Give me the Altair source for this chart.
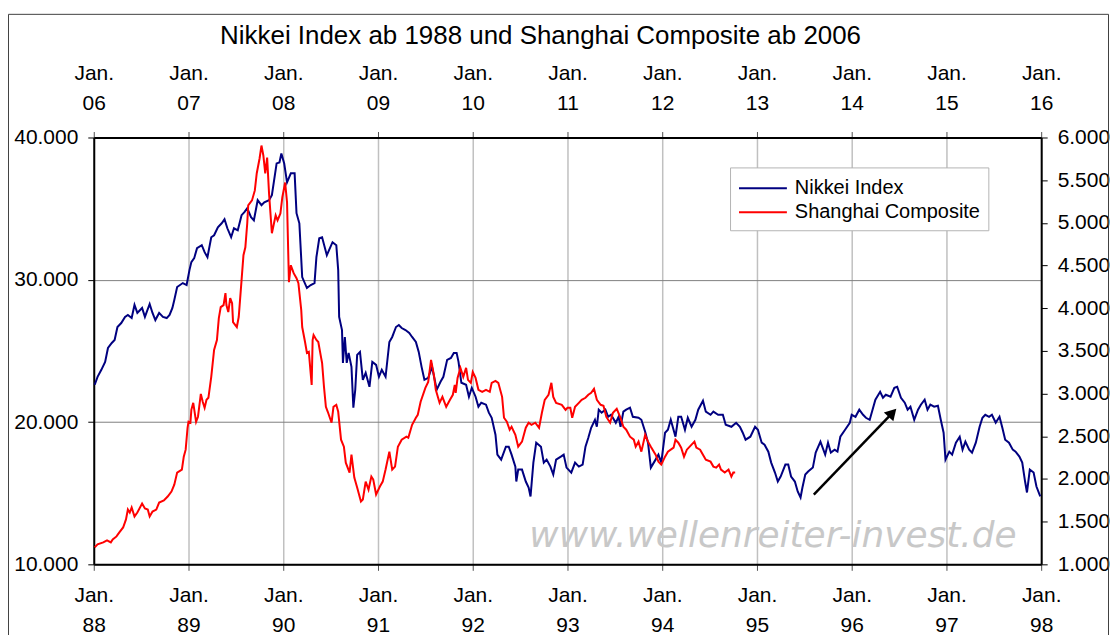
import altair as alt
import pandas as pd

FONT = "Liberation Sans"

title_text = "Nikkei Index ab 1988 und Shanghai Composite ab 2006"
series_names = ["Nikkei Index", "Shanghai Composite"]
series_colors = ["#000080", "#ff0000"]
watermark_text = "www.wellenreiter-invest.de"

# Nikkei (bottom / left axes), time as decimal year
nikkei_t = [
    1988.01, 1988.04, 1988.08, 1988.12, 1988.15, 1988.19, 1988.22, 1988.25, 1988.29, 1988.33,
    1988.36, 1988.40, 1988.43, 1988.46, 1988.51, 1988.54, 1988.59, 1988.62, 1988.65, 1988.69,
    1988.73, 1988.77, 1988.80, 1988.83, 1988.85, 1988.88, 1988.94, 1988.98,
    1989.01, 1989.03, 1989.06, 1989.09, 1989.14, 1989.17, 1989.20, 1989.24, 1989.27, 1989.31,
    1989.35, 1989.38, 1989.41, 1989.45, 1989.48, 1989.52, 1989.56, 1989.59, 1989.62, 1989.66,
    1989.69, 1989.73, 1989.77, 1989.80, 1989.85, 1989.88, 1989.93, 1989.96, 1989.98,
    1990.01, 1990.04, 1990.08, 1990.12, 1990.14, 1990.17, 1990.20, 1990.25, 1990.29, 1990.33,
    1990.35, 1990.38, 1990.41, 1990.46, 1990.52, 1990.56, 1990.58, 1990.59, 1990.62, 1990.63,
    1990.65, 1990.67, 1990.69, 1990.72, 1990.74, 1990.76, 1990.78, 1990.81, 1990.84, 1990.87,
    1990.91, 1990.94, 1990.98,
    1991.01, 1991.04, 1991.08, 1991.12, 1991.15, 1991.19, 1991.22, 1991.25, 1991.29, 1991.33,
    1991.36, 1991.40, 1991.43, 1991.46, 1991.49, 1991.53, 1991.57, 1991.62, 1991.66, 1991.69,
    1991.73, 1991.77, 1991.80, 1991.83, 1991.85, 1991.88, 1991.93, 1991.96, 1991.99,
    1992.03, 1992.06, 1992.09, 1992.14, 1992.17, 1992.20, 1992.24, 1992.26, 1992.30, 1992.35,
    1992.38, 1992.41, 1992.45, 1992.46, 1992.48, 1992.52, 1992.56, 1992.59, 1992.61, 1992.64,
    1992.67, 1992.72, 1992.75, 1992.78, 1992.82, 1992.85, 1992.88, 1992.93, 1992.96, 1992.99,
    1993.04, 1993.08, 1993.12, 1993.16, 1993.19, 1993.22, 1993.25, 1993.29, 1993.31, 1993.33,
    1993.36, 1993.40, 1993.43, 1993.46, 1993.51, 1993.54, 1993.56, 1993.59, 1993.62, 1993.66,
    1993.69, 1993.75, 1993.78, 1993.82, 1993.85, 1993.88, 1993.93, 1993.96, 1993.99,
    1994.03, 1994.06, 1994.09, 1994.14, 1994.17, 1994.20, 1994.24, 1994.27, 1994.31, 1994.35,
    1994.38, 1994.43, 1994.46, 1994.51, 1994.54, 1994.59, 1994.64, 1994.67, 1994.73, 1994.78,
    1994.82, 1994.85, 1994.88, 1994.93, 1994.98,
    1995.01, 1995.05, 1995.08, 1995.12, 1995.15, 1995.19, 1995.22, 1995.25, 1995.30, 1995.33,
    1995.36, 1995.40, 1995.43, 1995.46, 1995.48, 1995.51, 1995.54, 1995.59, 1995.62, 1995.67,
    1995.72, 1995.75, 1995.78, 1995.82, 1995.85, 1995.88, 1995.93, 1995.98,
    1996.00, 1996.04, 1996.08, 1996.12, 1996.15, 1996.19, 1996.22, 1996.25, 1996.30, 1996.33,
    1996.36, 1996.41, 1996.45, 1996.48, 1996.52, 1996.56, 1996.59, 1996.62, 1996.66, 1996.70,
    1996.73, 1996.77, 1996.80, 1996.83, 1996.87, 1996.91, 1996.94, 1996.97, 1996.99,
    1997.03, 1997.06, 1997.10, 1997.14, 1997.17, 1997.20, 1997.24, 1997.27, 1997.31, 1997.35,
    1997.38, 1997.41, 1997.45, 1997.48, 1997.52, 1997.56, 1997.59, 1997.62, 1997.66, 1997.70,
    1997.73, 1997.77, 1997.80, 1997.83, 1997.85, 1997.88, 1997.92, 1997.95, 1997.99,
]
nikkei_v = [
    22620, 23180, 23670, 24230, 25210, 25560, 25770, 26680, 26960, 27390,
    27530, 27310, 28230, 27670, 28020, 27390, 28300, 27670, 27170, 27670,
    27390, 27310, 27530, 28020, 28580, 29490, 29770, 29630,
    30680, 31240, 31520, 32220, 32430, 31940, 31590, 32990, 33130, 33690,
    33970, 34250, 33620, 32990, 33620, 33480, 34540, 34750, 35030, 34400,
    34180, 35590, 35240, 35450, 35590, 35940, 38180, 38250, 38880,
    38180, 36850, 37480, 37480, 34680, 33970, 30190, 29420, 29630, 29770,
    31590, 32920, 32990, 31730, 32640, 32430, 30680, 27390, 26470, 24160,
    25980, 24160, 24860, 23880, 21010, 22270, 24720, 24930, 22970, 23460,
    22480, 24230, 24020,
    23180, 23670, 23180, 25630, 25980, 26680, 26820, 26610, 26470, 26260,
    25980, 25630, 24930, 23880, 22970, 23110, 23880, 22270, 22830, 23180,
    24370, 24510, 24860, 24860, 24230, 22760, 22620, 21780, 22410,
    21780, 21080, 21360, 21220, 20660, 20300, 19110, 17710, 17360, 18270,
    18270, 17710, 16870, 15820, 16660, 16660, 15820, 15400, 14770, 17150,
    18550, 18270, 17150, 17360, 16870, 16310, 17360, 17570, 17710, 16800,
    16450, 17150, 16870, 17010, 18270, 18900, 19600, 20160, 19670, 20870,
    20660, 20870, 20370, 20510, 19950, 20370, 19670, 20730, 20870, 21010,
    20370, 20300, 20160, 19320, 18550, 16800, 17360, 17710, 17150,
    19250, 19460, 20160, 18970, 20370, 20370, 19460, 20300, 19670, 20160,
    20870, 21500, 20730, 20510, 20730, 20510, 20510, 19810, 19670, 19950,
    19670, 19250, 18760, 18970, 19670,
    19460, 18550, 18410, 17920, 17150, 16450, 15820, 16170, 17010, 17010,
    16170, 15820, 15120, 14700, 15400, 16310, 16520, 16800, 17850, 18620,
    17710, 18550, 17850, 18060, 17920, 18970, 19460, 19950,
    20510, 20370, 20870, 20510, 20300, 20160, 20870, 21570, 22130, 21710,
    21920, 21780, 22410, 22480, 21710, 21360, 20870, 21080, 20160, 20870,
    21220, 21570, 20870, 21220, 21080, 21150, 20160, 19250, 17360,
    17920, 17710, 18550, 18970, 18060, 18620, 18060, 17850, 18550, 19670,
    20300, 20510, 20370, 20510, 19950, 20370, 19600, 18760, 18550, 18060,
    17920, 17570, 17150, 15820, 15050, 16660, 16450, 15470, 14770,
]

# Shanghai Composite (top / right axes), time as decimal year
shanghai_t = [
    2006.01, 2006.04, 2006.10, 2006.14, 2006.18, 2006.20, 2006.24, 2006.27, 2006.31, 2006.34,
    2006.36, 2006.38, 2006.40, 2006.43, 2006.46, 2006.51, 2006.54, 2006.57, 2006.59, 2006.62,
    2006.66, 2006.69, 2006.74, 2006.78, 2006.82, 2006.85, 2006.88, 2006.93, 2006.95, 2006.97,
    2006.99,
    2007.00, 2007.02, 2007.03, 2007.05, 2007.08, 2007.10, 2007.13, 2007.15, 2007.17, 2007.19,
    2007.21, 2007.24, 2007.27, 2007.30, 2007.32, 2007.34, 2007.37, 2007.39, 2007.40, 2007.42,
    2007.44, 2007.46, 2007.47, 2007.51, 2007.53, 2007.56, 2007.58, 2007.60, 2007.62, 2007.63,
    2007.67, 2007.70, 2007.72, 2007.75, 2007.77, 2007.79, 2007.81, 2007.83, 2007.85, 2007.88,
    2007.92, 2007.94, 2007.97, 2007.99,
    2008.02, 2008.04, 2008.06, 2008.08, 2008.11, 2008.14, 2008.16, 2008.19, 2008.20, 2008.23,
    2008.25, 2008.27, 2008.30, 2008.31, 2008.32, 2008.35, 2008.37, 2008.40, 2008.41, 2008.43,
    2008.45, 2008.47, 2008.51, 2008.53, 2008.56, 2008.58, 2008.61, 2008.64, 2008.66, 2008.70,
    2008.72, 2008.75, 2008.78, 2008.82, 2008.84, 2008.87, 2008.90, 2008.93, 2008.95, 2008.98,
    2009.02, 2009.05, 2009.08, 2009.12, 2009.15, 2009.18, 2009.21, 2009.25, 2009.30, 2009.32,
    2009.36, 2009.40, 2009.42, 2009.45, 2009.50, 2009.53, 2009.56, 2009.59, 2009.61, 2009.65,
    2009.68, 2009.72, 2009.76, 2009.79, 2009.81, 2009.82, 2009.84, 2009.87, 2009.90, 2009.93,
    2009.95, 2009.98,
    2010.00, 2010.03, 2010.06, 2010.10, 2010.14, 2010.18, 2010.20, 2010.24, 2010.27, 2010.31,
    2010.33, 2010.36, 2010.39, 2010.41, 2010.45, 2010.48, 2010.52, 2010.56, 2010.59, 2010.62,
    2010.66, 2010.70, 2010.73, 2010.76, 2010.80, 2010.83, 2010.85, 2010.88, 2010.94, 2010.98,
    2011.00, 2011.03, 2011.05, 2011.08, 2011.12, 2011.15, 2011.19, 2011.22, 2011.25, 2011.28,
    2011.31, 2011.35, 2011.38, 2011.41, 2011.45, 2011.48, 2011.52, 2011.56, 2011.59, 2011.62,
    2011.66, 2011.70, 2011.72, 2011.75, 2011.78, 2011.82, 2011.85, 2011.88, 2011.93, 2011.96,
    2011.99,
    2012.03, 2012.06, 2012.12, 2012.14, 2012.17, 2012.20, 2012.23, 2012.26, 2012.31, 2012.34,
    2012.36, 2012.40, 2012.43, 2012.46, 2012.51, 2012.54, 2012.57, 2012.60, 2012.62, 2012.66,
    2012.70, 2012.73, 2012.75, 2012.77,
]
shanghai_v = [
    1199, 1234, 1257, 1280, 1257, 1292, 1327, 1374, 1432, 1526,
    1642, 1607, 1666, 1561, 1607, 1712, 1654, 1642, 1561, 1619,
    1642, 1724, 1748, 1794, 1853, 1934, 2075, 2110, 2261, 2343,
    2600,
    2670, 2659, 2810, 2892, 2670, 2729, 2997, 2904, 2834, 2927,
    2951, 3196, 3511, 3628, 3885, 4013, 4037, 4177, 4037, 3955,
    4119, 4060, 3838, 3780, 3897, 4329, 4621, 4714, 4995, 5205,
    5263, 5380, 5579, 5754, 5906, 5789, 5579, 5765, 5345, 4878,
    5088, 5030, 5111, 5298,
    5473, 5240, 4305, 4504, 4411, 4352, 4294, 3978, 3780, 3605,
    3476, 3488, 3102, 3628, 3686, 3628, 3605, 3418, 3359, 3079,
    2845, 2787, 2659, 2845, 2869, 2787, 2460, 2378, 2191, 2075,
    2285, 2016, 1899, 1736, 1759, 1969, 1876, 2028, 1993, 1818,
    1911, 1969, 2110, 2320, 2110, 2145, 2378, 2460, 2495, 2483,
    2635, 2717, 2752, 2904, 3067, 3137, 3394, 3219, 3044, 2892,
    2962, 2845, 2927, 2986, 3102, 3009, 3184, 3301, 3196, 3301,
    3161, 3126,
    3254, 3184, 3044, 3021, 3044, 3021, 3126, 3149, 3126, 2962,
    2717, 2670, 2577, 2612, 2518, 2378, 2437, 2600, 2659, 2635,
    2659, 2600, 2775, 2927, 2986, 3126, 2962, 2892, 2869, 2810,
    2834, 2834, 2717, 2845, 2892, 2927, 2951, 2986, 3009, 3056,
    2927, 2869, 2857, 2729, 2659, 2775, 2822, 2717, 2612, 2577,
    2495, 2460, 2378, 2437, 2320, 2518, 2437, 2378, 2285, 2203,
    2168,
    2261, 2320, 2367, 2460, 2425, 2367, 2261, 2343, 2402, 2437,
    2367, 2343, 2285, 2226, 2203, 2145, 2133, 2168, 2110, 2075,
    2110, 2028, 2075, 2075,
]

nikkei_ticks = [10000, 20000, 30000, 40000]
shanghai_ticks = [1000, 1500, 2000, 2500, 3000, 3500, 4000, 4500, 5000, 5500, 6000]
bottom_years = [1988, 1989, 1990, 1991, 1992, 1993, 1994, 1995, 1996, 1997, 1998]
top_years = [2006, 2007, 2008, 2009, 2010, 2011, 2012, 2013, 2014, 2015, 2016]
nikkei_domain = [1988, 1998]
shanghai_domain = [2006, 2016]
nikkei_range = [10000, 40000]
shanghai_range = [1000, 6000]

# annotation arrow (Nikkei coordinates)
arrow_t = [1995.60, 1996.43]
arrow_v = [14900, 20650]

assert len(nikkei_t) == len(nikkei_v)
assert len(shanghai_t) == len(shanghai_v)

nk_df = pd.DataFrame({"t": nikkei_t, "v": nikkei_v, "series": series_names[0]})
sh_df = pd.DataFrame({"t": shanghai_t, "v": shanghai_v, "series": series_names[1]})
arrow_df = pd.DataFrame({"t": [arrow_t[0]], "t2": [arrow_t[1]],
                         "v": [arrow_v[0]], "v2": [arrow_v[1]]})
mark_df = pd.DataFrame({"label": [watermark_text], "title": [title_text]})

LBL = 21
dot_fmt = "replace(format(datum.value, ','), ',', '.')"
year_fmt = "['Jan.', substring(toString(datum.value), 2, 4)]"

color = alt.Color(
    "series:N",
    scale=alt.Scale(domain=series_names, range=series_colors),
    legend=alt.Legend(
        title=None, orient="none", legendX=638, legendY=30, direction="vertical",
        symbolType="M-1,0H3", symbolSize=576, symbolStrokeWidth=2,
        labelFont=FONT, labelFontSize=20, labelColor="black", labelLimit=400,
        labelOffset=31, rowPadding=1, padding=8,
        strokeColor="#b4b4b4", fillColor="white",
    ),
)

x_nk_scale = alt.Scale(domain=nikkei_domain, nice=False, zero=False)
y_nk_scale = alt.Scale(domain=nikkei_range, nice=False, zero=False)

x_bottom = alt.X(
    "t:Q", scale=x_nk_scale, title=None,
    axis=alt.Axis(
        orient="bottom", values=bottom_years, labelExpr=year_fmt,
        labelFont=FONT, labelFontSize=LBL, labelColor="black", labelLineHeight=30,
        labelBaseline="top", labelPadding=14, labelOverlap=False, labelFlush=False,
        labelBound=False, tickSize=6, tickColor="#505050", tickWidth=1,
        domainColor="black", domainWidth=2,
        grid=True, gridColor="#c0c0c0", gridWidth=1.5,
    ),
)
y_left = alt.Y(
    "v:Q", scale=y_nk_scale, title=None,
    axis=alt.Axis(
        orient="left", values=nikkei_ticks, labelExpr=dot_fmt,
        labelFont=FONT, labelFontSize=LBL, labelColor="black", labelPadding=10,
        labelOverlap=False, labelFlush=False, labelBound=False,
        tickSize=6, tickColor="black", tickWidth=1,
        domainColor="black", domainWidth=2,
        grid=True, gridColor="#808080", gridWidth=1,
    ),
)

frame = alt.Chart(mark_df).mark_rect(fillOpacity=0, stroke="#404040", strokeWidth=1).encode(
    x=alt.value(-85.5), x2=alt.value(1017.5), y=alt.value(-123.5), y2=alt.value(560)
)
title_mark = alt.Chart(mark_df).mark_text(
    font=FONT, fontSize=26, color="black", align="center", baseline="middle",
).encode(x=alt.value(448), y=alt.value(-102), text="title:N")
watermark = alt.Chart(mark_df).mark_text(
    font="DejaVu Sans", fontStyle="italic", fontSize=36, color="#c8c8c8",
    align="center", baseline="middle",
).encode(x=alt.value(681), y=alt.value(400), text="label:N")

nk_line = alt.Chart(nk_df).mark_line(strokeWidth=2).encode(x=x_bottom, y=y_left, color=color)

arrow_line = alt.Chart(arrow_df).mark_rule(color="black", strokeWidth=2.5).encode(
    x=alt.X("t:Q", scale=x_nk_scale, title=None), x2="t2:Q",
    y=alt.Y("v:Q", scale=y_nk_scale, title=None), y2="v2:Q",
)
arrow_head = alt.Chart(arrow_df).mark_point(
    shape="triangle-up", filled=True, color="black", opacity=1, size=170, angle=43
).encode(
    x=alt.X("t2:Q", scale=x_nk_scale, title=None),
    y=alt.Y("v2:Q", scale=y_nk_scale, title=None),
)

nk_group = alt.layer(frame, title_mark, watermark, nk_line, arrow_line, arrow_head)

sh_line = alt.Chart(sh_df).mark_line(strokeWidth=2).encode(
    x=alt.X(
        "t:Q", scale=alt.Scale(domain=shanghai_domain, nice=False, zero=False), title=None,
        axis=alt.Axis(
            orient="top", values=top_years, labelExpr=year_fmt,
            labelFont=FONT, labelFontSize=LBL, labelColor="black", labelLineHeight=30,
            labelBaseline="bottom", labelPadding=48, labelOverlap=False, labelFlush=False,
            labelBound=False, tickSize=6, tickColor="#505050", tickWidth=1,
            domainColor="black", domainWidth=2, grid=False,
        ),
    ),
    y=alt.Y(
        "v:Q", scale=alt.Scale(domain=shanghai_range, nice=False, zero=False), title=None,
        axis=alt.Axis(
            orient="right", values=shanghai_ticks, labelExpr=dot_fmt,
            labelFont=FONT, labelFontSize=LBL, labelColor="black", labelPadding=10,
            labelOverlap=False, labelFlush=False, labelBound=False,
            tickSize=6, tickColor="black", tickWidth=1,
            domainColor="black", domainWidth=2, grid=False,
        ),
    ),
    color=color,
)

chart = (
    alt.layer(nk_group, sh_line)
    .resolve_scale(x="independent", y="independent")
    .properties(
        width=950,
        height=428,
        autosize=alt.AutoSizeParams(type="none"),
        padding={"left": 86, "top": 129, "right": 69, "bottom": 70},
    )
    .configure_view(stroke="transparent")
    .configure(background="white")
)

chart.save("out.html", embed_options={"renderer": "svg", "actions": False})
